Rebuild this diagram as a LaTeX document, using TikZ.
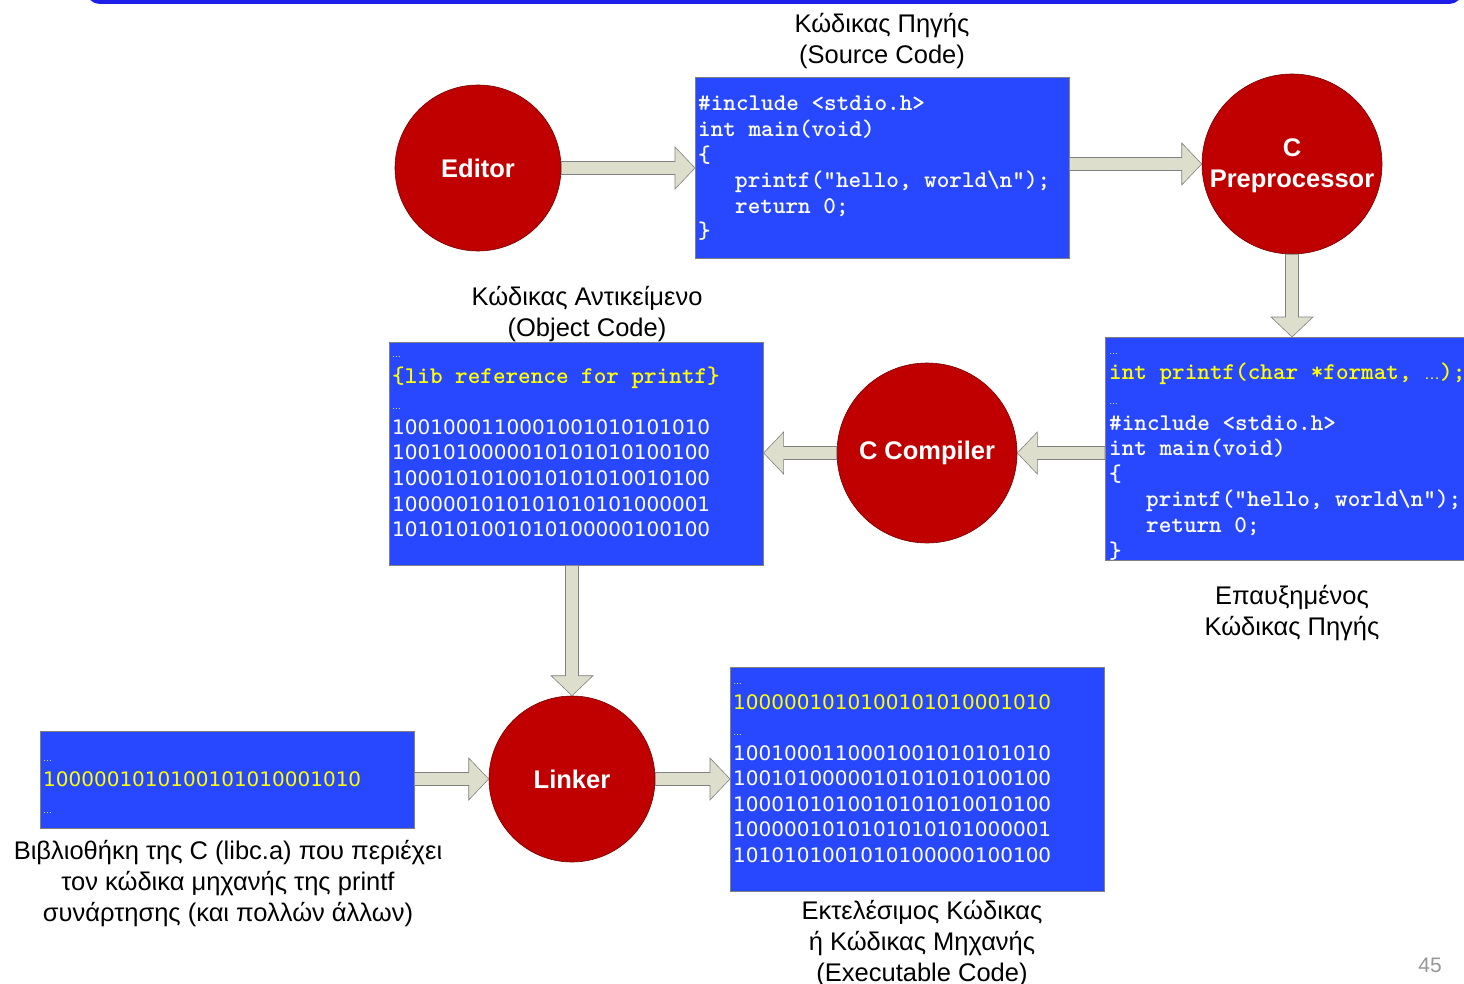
\documentclass[tikz,border=0pt]{standalone}
\usepackage{fontspec}
\setmainfont{Liberation Sans}
\newfontfamily\binfont{DejaVu Sans}
\usetikzlibrary{calc}
\definecolor{boxblue}{RGB}{40,72,255}
\definecolor{circred}{RGB}{192,0,0}
\definecolor{arrfill}{RGB}{221,223,204}
\definecolor{arrline}{RGB}{128,128,128}
\definecolor{codeyellow}{RGB}{255,255,0}
\definecolor{frameblue}{RGB}{30,30,235}
\definecolor{pagegray}{RGB}{150,150,150}
\newcommand\harrow[2]{\draw[blockarrow] let \p1=(#1), \p2=(#2), \p3=($(\x2,\y1)!20pt!(\p1)$) in
  (\x1,\y1+6.5pt) -- (\x3,\y1+6.5pt) -- (\x3,\y1+21pt) -- (\x2,\y1) -- (\x3,\y1-21pt) -- (\x3,\y1-6.5pt) -- (\x1,\y1-6.5pt) -- cycle;}
\newcommand\varrow[2]{\draw[blockarrow] let \p1=(#1), \p2=(#2), \p3=($(\x1,\y2)!20pt!(\p1)$) in
  (\x1-6.5pt,\y1) -- (\x1-6.5pt,\y3) -- (\x1-21pt,\y3) -- (\x1,\y2) -- (\x1+21pt,\y3) -- (\x1+6.5pt,\y3) -- (\x1+6.5pt,\y1) -- cycle;}
\newcommand\codedots{{\rmfamily\mdseries\fontsize{16}{16}\selectfont …}}
\tikzset{
 proctext/.style={text=white, font=\fontsize{25.5}{31}\selectfont\bfseries, align=center, inner sep=0pt},
 proc/.style={proctext, circle, fill=circred, draw=circred!60!black, line width=0.6pt},
 codebox/.style={fill=boxblue, draw=gray, line width=0.6pt, inner sep=0pt, anchor=north west},
 lbl/.style={align=center, font=\fontsize{25.5}{31}\selectfont, text=black, inner sep=0pt},
 code/.style={anchor=base west, inner sep=0pt, text=white, font=\ttfamily\bfseries\fontsize{24}{25.6}\selectfont},
 ycode/.style={code, text=codeyellow},
 bin/.style={anchor=base west, inner sep=0pt, text=white, font=\binfont\fontsize{20}{25.6}\selectfont},
 ybin/.style={bin, text=codeyellow},
 dots/.style={anchor=base west, inner sep=0pt, font=\fontsize{9}{9}\selectfont, text=codeyellow},
 blockarrow/.style={fill=arrfill, draw=arrline, line width=0.6pt},
}
\begin{document}
\begin{tikzpicture}[x=1pt,y=-1pt]
\useasboundingbox (0,0) rectangle (1464,984);
\clip (0,0) rectangle (1464,984);
% top frame edge
\draw[frameblue, line width=4pt, rounded corners=12pt] (88,-60) rectangle (1461,2);

% boxes
\node[codebox, minimum width=374pt, minimum height=181pt] (src) at (695,77) {};
\node[codebox, minimum width=370pt, minimum height=223pt] (pp) at (1105,337) {};
\node[codebox, minimum width=374pt, minimum height=223pt] (obj) at (389,342) {};
\node[codebox, minimum width=374pt, minimum height=97pt] (lib) at (40,731) {};
\node[codebox, minimum width=374pt, minimum height=224pt] (ex) at (730,667) {};

% circles
\node[proc, minimum size=166pt] (ed) at (478,168) {Editor};
\node[proc, minimum size=180pt] (pre) at (1292,164) {};
\node[proctext] (pretxt) at (1292,166) {C\\Preprocessor};
\node[proc, minimum size=180pt] (cc) at (927,453) {C Compiler};
\node[proc, minimum size=166pt] (lk) at (572,779) {Linker};

% source code
\node[code] (s1) at (698,111) {\#include <stdio.h>};
\node[code] (s2) at (698,136.6) {int main(void)};
\node[code] (s3) at (698,162.2) {\{};
\node[code] (s4) at (735,187.8) {printf("hello, world\textbackslash n");};
\node[code] (s5) at (735,213.4) {return 0;};
\node[code] (s6) at (698,239) {\}};

% preprocessed code
\node[dots] (p0) at (1109,354) {…};
\node[ycode] (p1) at (1109,379) {int printf(char *format, \codedots);};
\node[dots] (p2) at (1109,404) {…};
\node[code] (p3) at (1109,430) {\#include <stdio.h>};
\node[code] (p4) at (1109,455.6) {int main(void)};
\node[code] (p5) at (1109,481.2) {\{};
\node[code] (p6) at (1146,506.8) {printf("hello, world\textbackslash n");};
\node[code] (p7) at (1146,532.4) {return 0;};
\node[code] (p8) at (1109,558) {\}};

% object code
\node[dots] (o0) at (392,357) {…};
\node[ycode] (o1) at (392,383) {\{lib reference for printf\}};
\node[dots] (o2) at (392,409) {…};
\node[bin] (o3) at (392,434.3) {1001000110001001010101010};
\node[bin] (o4) at (392,459.9) {1001010000010101010100100};
\node[bin] (o5) at (392,485.5) {1000101010010101010010100};
\node[bin] (o6) at (392,511.1) {1000001010101010101000001};
\node[bin] (o7) at (392,536.7) {1010101001010100000100100};

% library
\node[dots] (l0) at (43,761) {…};
\node[ybin] (l1) at (43,786) {1000001010100101010001010};
\node[dots] (l2) at (43,813) {…};

% executable
\node[dots] (e0) at (733,684) {…};
\node[ybin] (e1) at (733,709.3) {1000001010100101010001010};
\node[dots] (e2) at (733,735) {…};
\node[bin] (e3) at (733,760) {1001000110001001010101010};
\node[bin] (e4) at (733,785.6) {1001010000010101010100100};
\node[bin] (e5) at (733,811.2) {1000101010010101010010100};
\node[bin] (e6) at (733,836.8) {1000001010101010101000001};
\node[bin] (e7) at (733,862.4) {1010101001010100000100100};

% labels
\node[lbl] (lsrc) at (882,41) {Κώδικας Πηγής\\(Source Code)};
\node[lbl] (lobj) at (587,314) {Κώδικας Αντικείμενο\\(Object Code)};
\node[lbl] (lpp) at (1292,613) {Επαυξημένος\\Κώδικας Πηγής};
\node[lbl] (llib) at (228,884) {Βιβλιοθήκη της C (libc.a) που περιέχει\\τον κώδικα μηχανής της printf\\συνάρτησης (και πολλών άλλων)};
\node[lbl] (lex) at (922,943.5) {Εκτελέσιμος Κώδικας\\ή Κώδικας Μηχανής\\(Executable Code)};
\node[text=pagegray, font=\fontsize{21}{21}\selectfont, inner sep=0pt] (pg) at (1430,965) {45};

% arrows
\harrow{ed.east}{src.west}
\harrow{src.east |- pre.center}{pre.west}
\varrow{pre.south}{pp.north}
\harrow{pp.west |- cc.center}{cc.east}
\harrow{cc.west}{obj.east}
\varrow{obj.south -| lk.center}{lk.north}
\harrow{lib.east |- lk.center}{lk.west}
\harrow{lk.east}{ex.west}
\end{tikzpicture}
\end{document}
